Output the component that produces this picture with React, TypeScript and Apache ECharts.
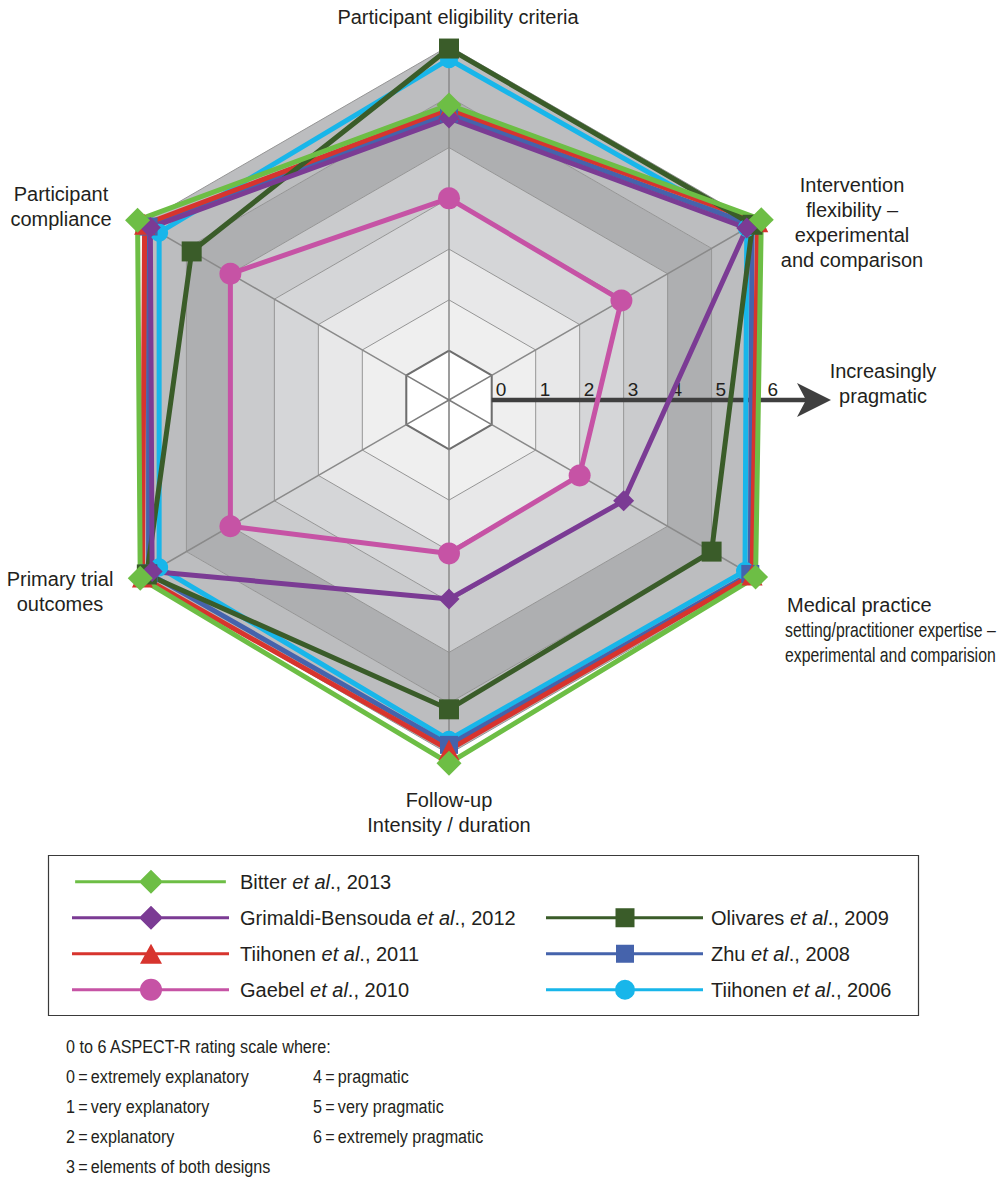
import React, { useEffect, useRef } from "react";
import * as echarts from "echarts";

// ---------- data ----------
// Indicator order as ECharts lays them out (counter-clockwise from the top)
const INDICATORS = [
  "Participant eligibility criteria",
  "Participant compliance",
  "Primary trial outcomes",
  "Follow-up Intensity / duration",
  "Medical practice setting/practitioner expertise – experimental and comparision",
  "Intervention flexibility – experimental and comparison",
];
const SCALE_MIN = 0;
const SCALE_MAX = 6;
const TICKS = [0, 1, 2, 3, 4, 5, 6];

const STUDIES = [
  "Bitter et al., 2013",
  "Grimaldi-Bensouda et al., 2012",
  "Tiihonen et al., 2011",
  "Gaebel et al., 2010",
  "Olivares et al., 2009",
  "Zhu et al., 2008",
  "Tiihonen et al., 2006",
];

// values: [eligibility, compliance, primary outcomes, follow-up, medical practice, intervention]
const BITTER_2013 = [4.84, 6.11, 6.05, 6.18, 6.0, 6.13];
const GRIMALDI_2012 = [4.58, 5.82, 5.78, 2.95, 3.0, 5.8];
const TIIHONEN_2011 = [4.76, 5.95, 6.0, 5.92, 5.92, 6.05];
const GAEBEL_2010 = [3.0, 4.0, 4.0, 2.05, 2.0, 2.95];
const OLIVARES_2009 = [5.95, 4.88, 5.9, 5.12, 5.0, 5.93];
const ZHU_2008 = [4.67, 5.86, 5.86, 5.82, 5.88, 5.92];
const TIIHONEN_2006 = [5.74, 5.62, 5.62, 5.72, 5.76, 5.8];

const SCALE_TITLE = "0 to 6 ASPECT-R rating scale where:";
const SCALE_LEFT = [
  "0\u2009=\u2009extremely explanatory",
  "1\u2009=\u2009very explanatory",
  "2\u2009=\u2009explanatory",
  "3\u2009=\u2009elements of both designs",
];
const SCALE_RIGHT = [
  "4\u2009=\u2009pragmatic",
  "5\u2009=\u2009very pragmatic",
  "6\u2009=\u2009extremely pragmatic",
];

// ---------- styling ----------
const FONT = "'Liberation Sans', Arial, Helvetica, sans-serif";
const TEXT = "#231f20";
const CX = 449;
const CY = 400;
const R0 = 49.3;
const R6 = 354;
const BAND_COLORS = ["#efefef", "#e8e8e9", "#d5d6d8", "#cacbcd", "#aeafb1", "#bcbdbf"];

type Def = { name: string; values: number[]; color: string; symbol: string; size: number; legendSize: number };

const DEFS: Def[] = [
  { name: STUDIES[0], values: BITTER_2013, color: "#6dbe45", symbol: "diamond", size: 25, legendSize: 25 },
  { name: STUDIES[1], values: GRIMALDI_2012, color: "#7b3b94", symbol: "diamond", size: 21, legendSize: 24 },
  { name: STUDIES[2], values: TIIHONEN_2011, color: "#d7342e", symbol: "triangle", size: 21, legendSize: 22 },
  { name: STUDIES[3], values: GAEBEL_2010, color: "#c653a5", symbol: "circle", size: 22, legendSize: 22 },
  { name: STUDIES[4], values: OLIVARES_2009, color: "#3a5c29", symbol: "rect", size: 20, legendSize: 19 },
  { name: STUDIES[5], values: ZHU_2008, color: "#4563ac", symbol: "rect", size: 18, legendSize: 18 },
  { name: STUDIES[6], values: TIIHONEN_2006, color: "#18b6ea", symbol: "circle", size: 18, legendSize: 20 },
];

// drawing order (last on top)
const DRAW_ORDER = [6, 5, 2, 4, 1, 0, 3];

function legendIcon(symbol: string, s: number): string {
  const W = 157, H = 24, cy = 12, cx = 79;
  let p = `path://M0 0 L0.01 0 L0.01 0.01 Z M${W - 0.01} ${H - 0.01} L${W} ${H - 0.01} L${W} ${H} Z `;
  p += `M0 ${cy - 1.5} H${W} V${cy + 1.5} H0 Z `;
  const h = s / 2;
  if (symbol === "diamond") {
    p += `M${cx} ${cy - h} L${cx + h} ${cy} L${cx} ${cy + h} L${cx - h} ${cy} Z`;
  } else if (symbol === "triangle") {
    p += `M${cx} ${cy - 10} L${cx + h} ${cy + 10} L${cx - h} ${cy + 10} Z`;
  } else if (symbol === "circle") {
    p += `M${cx - h} ${cy} A${h} ${h} 0 1 1 ${cx + h} ${cy} A${h} ${h} 0 1 1 ${cx - h} ${cy} Z`;
  } else {
    p += `M${cx - h} ${cy - h} H${cx + h} V${cy + h} H${cx - h} Z`;
  }
  return p;
}

function legendFormatter(name: string) {
  const parts = name.split(" et al");
  return `{n|${parts[0]} }{i|et al}{n|${parts[1]}}`;
}

function legendCfg(idx: number[], left: number, top: number, pad: number) {
  return {
    orient: "vertical",
    left,
    top,
    padding: 0,
    itemWidth: 157,
    itemHeight: 24,
    itemGap: 12,
    selectedMode: false,
    itemStyle: { borderWidth: 0 },
    data: idx.map((i) => ({ name: DEFS[i].name, icon: legendIcon(DEFS[i].symbol, DEFS[i].legendSize) })),
    formatter: legendFormatter,
    textStyle: {
      fontSize: 20,
      fontFamily: FONT,
      color: TEXT,
      padding: [0, 0, 0, pad],
      rich: {
        n: { fontSize: 20, fontFamily: FONT, color: TEXT },
        i: { fontSize: 20, fontFamily: FONT, color: TEXT, fontStyle: "italic" },
      },
    },
  };
}

function txt(text: string, x: number, y: number, opts: any = {}) {
  const el: any = {
    type: "text",
    x,
    y,
    z: opts.z ?? 5,
    style: {
      text,
      fontSize: opts.fontSize ?? 20,
      fontFamily: FONT,
      fill: TEXT,
      align: opts.align ?? "center",
      verticalAlign: "middle",
      lineHeight: opts.lineHeight ?? 25,
    },
  };
  if (opts.scaleX) el.scaleX = opts.scaleX;
  return el;
}

function buildOption() {
  const indicator = INDICATORS.map((name) => ({ name, min: SCALE_MIN, max: SCALE_MAX }));
  const unit = (R6 - R0) / (SCALE_MAX - SCALE_MIN);
  const cos30 = Math.cos(Math.PI / 6);
  const edgeX = (v: number) => CX + (R0 + (v - SCALE_MIN) * unit) * cos30;

  const graphic: any[] = [
    // legend frame
    { type: "rect", z: 0, shape: { x: 48.5, y: 855.5, width: 870, height: 160 }, style: { fill: "none", stroke: "#3a3a3a", lineWidth: 1.2 } },
    // arrow
    { type: "line", z: 1, shape: { x1: edgeX(SCALE_MIN), y1: CY, x2: 808, y2: CY }, style: { stroke: "#3f3f3f", lineWidth: 4.5 } },
    { type: "polygon", z: 1, shape: { points: [[797, 383], [831, 400], [797, 417], [806, 400]] }, style: { fill: "#3f3f3f" } },
    // axis names
    txt("Participant eligibility criteria", 458, 17),
    txt("Participant\ncompliance", 61, 206),
    txt("Primary trial\noutcomes", 60, 591),
    txt("Follow-up\nIntensity / duration", 449, 812),
    txt("Medical practice", 787, 605, { align: "left" }),
    txt("setting/practitioner expertise –", 785, 630, { align: "left", scaleX: 0.79 }),
    txt("experimental and comparision", 785, 655, { align: "left", scaleX: 0.79 }),
    txt("Intervention\nflexibility –\nexperimental\nand comparison", 852, 222),
    txt("Increasingly\npragmatic", 883, 383),
    // scale explanation
    txt(SCALE_TITLE, 66, 1047, { align: "left", fontSize: 19, scaleX: 0.85 }),
    ...SCALE_LEFT.map((s, i) => txt(s, 66, 1077 + i * 30, { align: "left", fontSize: 19, scaleX: 0.85 })),
    ...SCALE_RIGHT.map((s, i) => txt(s, 313, 1077 + i * 30, { align: "left", fontSize: 19, scaleX: 0.85 })),
  ];
  // tick labels along the pragmatic arrow
  TICKS.forEach((t) => {
    const off = t === SCALE_MAX ? 12 : 4;
    graphic.push(txt(String(t), edgeX(t) + off, 389, { align: "left", fontSize: 19, z: 1 }));
  });

  const series = DRAW_ORDER.map((i) => {
    const d = DEFS[i];
    return {
      type: "radar",
      radarIndex: 0,
      name: d.name,
      symbol: d.symbol,
      symbolSize: d.size,
      lineStyle: { width: 5, color: d.color, opacity: 1 },
      itemStyle: { color: d.color, borderWidth: 0 },
      emphasis: { disabled: true },
      data: [{ name: d.name, value: d.values }],
    };
  });

  return {
    animation: false,
    backgroundColor: "#ffffff",
    radar: [
      {
        center: [CX, CY],
        radius: [R0, R6],
        startAngle: 90,
        shape: "polygon",
        splitNumber: SCALE_MAX - SCALE_MIN,
        indicator,
        axisName: { show: false },
        axisLabel: { show: false },
        axisTick: { show: false },
        axisLine: { lineStyle: { color: "#8a8a8a", width: 1.5 } },
        splitLine: { lineStyle: { color: "#959595", width: 1 } },
        splitArea: { show: true, areaStyle: { color: BAND_COLORS } },
      },
      {
        center: [CX, CY],
        radius: R0,
        startAngle: 90,
        shape: "polygon",
        splitNumber: 1,
        indicator,
        axisName: { show: false },
        axisLabel: { show: false },
        axisTick: { show: false },
        axisLine: { lineStyle: { color: "#7d7d7d", width: 1.5 } },
        splitLine: { lineStyle: { color: "#6e6e6e", width: 2 } },
        splitArea: { show: true, areaStyle: { color: ["#ffffff"] } },
      },
    ],
    legend: [
      legendCfg([0, 1, 2, 3], 72, 869.7, 6),
      legendCfg([4, 5, 6], 546, 905.7, 3),
    ],
    graphic,
    series,
  };
}

export default function App() {
  const ref = useRef<HTMLDivElement>(null);
  useEffect(() => {
    document.body.style.margin = "0";
    const chart = echarts.init(ref.current as HTMLDivElement, null, { renderer: "svg" });
    chart.setOption(buildOption() as any);
    return () => chart.dispose();
  }, []);
  return <div ref={ref} style={{ width: 1001, height: 1182, background: "#fff" }} />;
}
